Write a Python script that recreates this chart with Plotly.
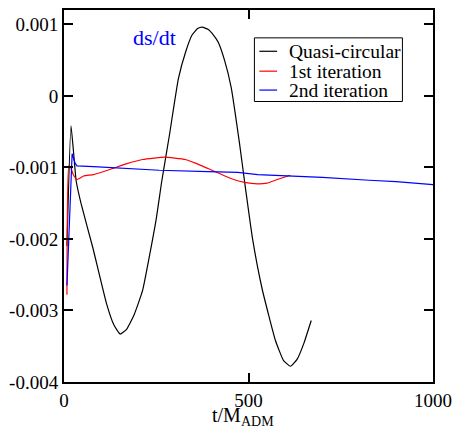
import plotly.graph_objects as go

# Quasi-circular (black)
t_qc = [8, 19, 33, 46, 78, 115, 135, 152, 170, 190, 213, 249, 265, 286, 310, 330, 347, 362, 375,
        390, 405, 418, 435, 453, 475, 492, 511, 537, 573, 595, 614, 632, 650, 670]
v_qc = [-0.00210, -0.00042, -0.00119, -0.00150, -0.00212, -0.00290, -0.00320, -0.00333, -0.00326,
        -0.00306, -0.00272, -0.00175, -0.00119, -0.00054, 0.00024, 0.00062, 0.00085, 0.00094, 0.00096,
        0.00093, 0.00085, 0.00075, 0.00050, 0.00012, -0.00064, -0.00130, -0.00200, -0.00270, -0.00342,
        -0.00370, -0.00378, -0.00368, -0.00346, -0.00314]

# 1st iteration (red)
t_1 = [8, 13, 18, 25, 35, 53, 80, 124, 169, 213, 245, 272, 300, 329, 356, 383, 410, 436, 460,
       489, 525, 550, 578, 613]
v_1 = [-0.00278, -0.00098, -0.00100, -0.00110, -0.00117, -0.00112, -0.00110, -0.00103, -0.00095,
       -0.00089, -0.00087, -0.000857, -0.00087, -0.00089, -0.00094, -0.00100, -0.00106, -0.00112,
       -0.00117, -0.00121, -0.00123, -0.00122, -0.00117, -0.00111]

# 2nd iteration (blue)
t_2 = [8, 22, 30, 35, 80, 150, 258, 391, 471, 525, 613, 700, 827, 900, 1000]
v_2 = [-0.00265, -0.00081, -0.00094, -0.00098, -0.00099, -0.00101, -0.00104, -0.00106, -0.00107,
       -0.00110, -0.00112, -0.00114, -0.00118, -0.00120, -0.00124]

series_names = ["Quasi-circular", "1st iteration", "2nd iteration"]
series_colors = ["black", "#ff0000", "#0000ff"]

x_ticks = [0, 500, 1000]
x_labels = ["0", "500", "1000"]
y_ticks = [-0.004, -0.003, -0.002, -0.001, 0, 0.001]
y_labels = ["-0.004", "-0.003", "-0.002", "-0.001", "0", "0.001"]

FONT = "Liberation Serif"
W, H = 460, 436
ML, MR, MT, MB = 64, 22, 8, 54
PW, PH = W - ML - MR, H - MT - MB


def px2paper(px, py):
    return (px - ML) / PW, 1 - (py - MT) / PH


fig = go.Figure()
line_styles = [dict(color="black", width=1.2, shape="spline", smoothing=0.4),
               dict(color="#ff0000", width=1.2, shape="spline", smoothing=0.4),
               dict(color="#0000ff", width=1.2)]
for (tx, vy), name, ln in zip([(t_qc, v_qc), (t_1, v_1), (t_2, v_2)], series_names, line_styles):
    fig.add_trace(go.Scatter(x=tx, y=vy, mode="lines", name=name, line=ln, showlegend=False))

axis_common = dict(showgrid=False, zeroline=False, showline=True, linecolor="black",
                   linewidth=2, mirror="ticks", ticks="inside", ticklen=9, tickwidth=1.5,
                   tickcolor="black", tickfont=dict(size=19))

fig.update_xaxes(range=[0, 1000], tickmode="array", tickvals=x_ticks, ticktext=x_labels,
                 **axis_common)
fig.update_yaxes(range=[-0.004, 0.0012], tickmode="array", tickvals=y_ticks, ticktext=y_labels,
                 **axis_common)

# x-axis title placed as in the reference
xt, yt = px2paper(245, 402)
fig.add_annotation(text="t/M<sub>ADM</sub>", x=xt, y=yt, xref="paper", yref="paper",
                   showarrow=False, xanchor="center", yanchor="top", font=dict(size=20))

# title-like label
tx_, ty_ = px2paper(132, 21)
fig.add_annotation(text="ds/dt", x=tx_, y=ty_, xref="paper", yref="paper",
                   showarrow=False, font=dict(size=22, color="#0000ff"))

# manual legend (tight line spacing as in the reference)
bx0, by0 = px2paper(257, 100)
bx1, by1 = px2paper(407, 36)
fig.add_shape(type="rect", xref="paper", yref="paper", x0=bx0, y0=by0, x1=bx1, y1=by1,
              line=dict(color="black", width=1), fillcolor="white", layer="above")
row_y = [49.5, 69.5, 88.5]
for name, col, ry in zip(series_names, series_colors, row_y):
    lx0, ly = px2paper(262, ry)
    lx1, _ = px2paper(280, ry)
    fig.add_shape(type="line", xref="paper", yref="paper", x0=lx0, x1=lx1, y0=ly, y1=ly,
                  line=dict(color=col, width=1.2), layer="above")
    ax_, ay_ = px2paper(290, ry)
    fig.add_annotation(text=name, x=ax_, y=ay_, xref="paper", yref="paper", showarrow=False,
                       xanchor="left", yanchor="middle", font=dict(size=19.5, color="black"))

fig.update_layout(
    width=W, height=H,
    margin=dict(l=ML, r=MR, t=MT, b=MB),
    plot_bgcolor="white", paper_bgcolor="white",
    font=dict(family=FONT, size=18, color="black"),
    showlegend=False,
)

fig.write_html("out.html")
